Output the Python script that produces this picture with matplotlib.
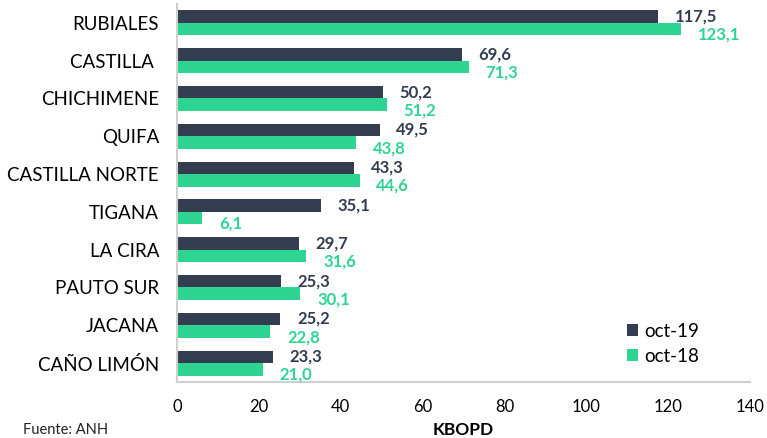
import matplotlib.pyplot as plt
import numpy as np

plt.rcParams['font.family'] = ['Lato', 'DejaVu Sans']

campos = ['RUBIALES', 'CASTILLA ', 'CHICHIMENE', 'QUIFA', 'CASTILLA NORTE',
          'TIGANA', 'LA CIRA', 'PAUTO SUR', 'JACANA', 'CAÑO LIMÓN']
oct19 = [117.5, 69.6, 50.2, 49.5, 43.3, 35.1, 29.7, 25.3, 25.2, 23.3]
oct18 = [123.1, 71.3, 51.2, 43.8, 44.6, 6.1, 31.6, 30.1, 22.8, 21.0]

dark = '#333d4f'
green = '#2ed592'

fig = plt.figure(figsize=(7.67, 4.38), dpi=100)
ax = fig.add_axes([0.231, 0.128, 0.747, 0.863])

y = np.arange(len(campos))
h = 0.33
ax.barh(y - h / 2, oct19, height=h, color=dark, label='oct-19')
ax.barh(y + h / 2, oct18, height=h, color=green, label='oct-18')

for i in range(len(campos)):
    ax.annotate(f'{oct19[i]:.1f}'.replace('.', ','), (oct19[i], y[i] - h / 2),
                xytext=(12, 0), textcoords='offset points', va='center',
                ha='left', fontsize=12, fontweight='bold', color=dark)
    ax.annotate(f'{oct18[i]:.1f}'.replace('.', ','), (oct18[i], y[i] + h / 2),
                xytext=(12, -4), textcoords='offset points', va='center',
                ha='left', fontsize=12, fontweight='bold', color=green)

ax.set_xlim(0, 140)
ax.set_ylim(len(campos) - 0.5, -0.5)
ax.set_xticks(range(0, 141, 20))
ax.set_yticks(y)
ax.set_yticklabels(campos)
ax.tick_params(axis='y', length=0, pad=13, labelsize=13.5)
ax.tick_params(axis='x', length=0, pad=12, labelsize=12)
for s in ['top', 'right']:
    ax.spines[s].set_visible(False)
for s in ['left', 'bottom']:
    ax.spines[s].set_color('#d0d0d0')
    ax.spines[s].set_linewidth(1.5)

ax.set_xlabel('KBOPD', fontsize=12.5, fontweight='bold', labelpad=5)
ax.legend(loc='lower right', bbox_to_anchor=(0.94, 0.0), frameon=False,
          fontsize=13.5, handlelength=0.6, handleheight=0.6, handletextpad=0.3,
          labelspacing=0.45)

fig.text(0.03, 0.01, 'Fuente: ANH', fontsize=10.5, color='#222222')

fig.savefig('out.png', dpi=100)
